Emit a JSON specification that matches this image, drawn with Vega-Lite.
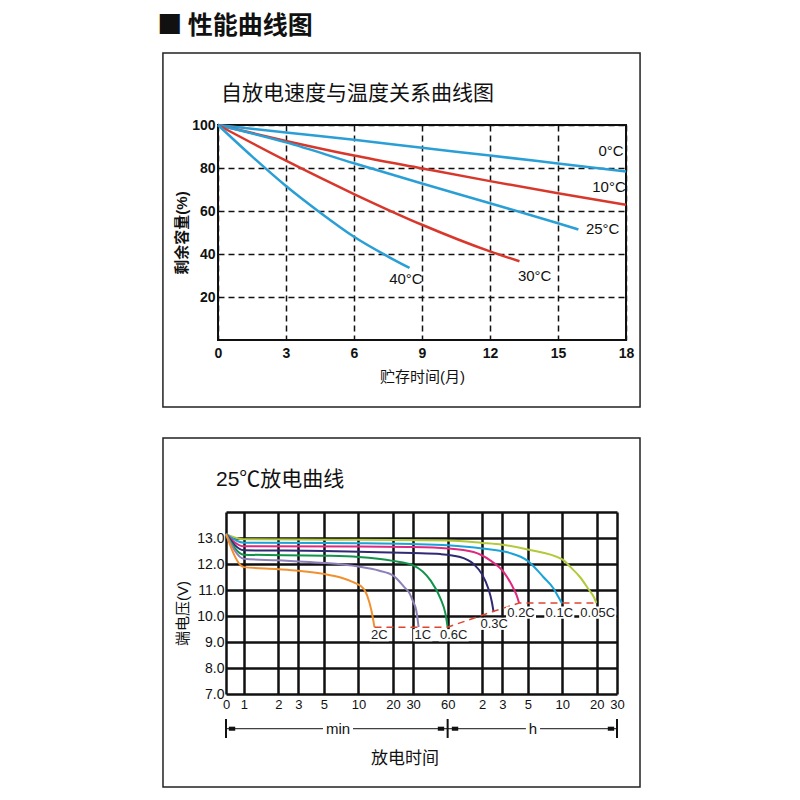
{
  "$schema": "https://vega.github.io/schema/vega-lite/v6.json",
  "background": "white",
  "padding": {"left": 157, "top": 14, "right": 5, "bottom": 5},
  "config": {
    "font": "Liberation Sans, 'Noto Sans CJK SC', sans-serif",
    "axis": {"domain": false, "ticks": false, "labelFlush": false, "labelOverlap": false, "labelColor": "#111", "titleColor": "#111", "gridOpacity": 1}
  },
  "title": {"text": "■ 性能曲线图", "anchor": "start", "frame": "bounds", "font": "'Noto Sans CJK SC', sans-serif", "fontSize": 25, "fontWeight": "bold", "color": "#111", "offset": 12, "dx": -4},
  "resolve": {"scale": {"color": "independent", "shape": "independent"}},
  "spacing": 28,
  "vconcat": [
    {
      "width": 408,
      "height": 215,
      "view": {"stroke": "#111", "strokeWidth": 2},
      "encoding": {
        "x": {"field": "x", "type": "quantitative", "scale": {"domain": [0, 18], "nice": false, "zero": false},
          "axis": {"values": [0, 3, 6, 9, 12, 15, 18], "title": "贮存时间(月)", "labelFontSize": 14, "labelFontWeight": "bold", "labelPadding": 6, "titleFontSize": 15, "titleFontWeight": "normal", "titlePadding": 9, "grid": true, "gridColor": "#111", "gridDash": [6, 4], "gridWidth": 1.5}},
        "y": {"field": "y", "type": "quantitative", "scale": {"domain": [0, 100], "nice": false},
          "axis": {"values": [20, 40, 60, 80, 100], "title": "剩余容量(%)", "labelFontSize": 14, "labelFontWeight": "bold", "labelPadding": 3, "titleFontSize": 15, "titleFontWeight": "bold", "titlePadding": 2, "grid": true, "gridColor": "#111", "gridDash": [6, 4], "gridWidth": 1.5}}
      },
      "layer": [
        {
          "data": {"values": [{"x": -2.43, "x2": 18.62, "y": -31.2, "y2": 133.5}]},
          "mark": {"type": "rect", "filled": false, "stroke": "#222", "strokeWidth": 1.5, "clip": false},
          "encoding": {"x2": {"field": "x2"}, "y2": {"field": "y2"}}
        },
        {
          "data": {"values": [
            {"s": "0°C", "x": 0, "y": 100}, {"s": "0°C", "x": 3, "y": 96.5}, {"s": "0°C", "x": 6, "y": 93.1}, {"s": "0°C", "x": 9, "y": 89.4}, {"s": "0°C", "x": 12, "y": 85.8}, {"s": "0°C", "x": 15, "y": 82.1}, {"s": "0°C", "x": 18, "y": 78.4},
            {"s": "10°C", "x": 0, "y": 100}, {"s": "10°C", "x": 3, "y": 92.6}, {"s": "10°C", "x": 6, "y": 85.8}, {"s": "10°C", "x": 9, "y": 79.8}, {"s": "10°C", "x": 12, "y": 73.9}, {"s": "10°C", "x": 15, "y": 68.3}, {"s": "10°C", "x": 18, "y": 62.9},
            {"s": "25°C", "x": 0, "y": 100}, {"s": "25°C", "x": 3, "y": 91.9}, {"s": "25°C", "x": 6, "y": 82.2}, {"s": "25°C", "x": 9, "y": 72.8}, {"s": "25°C", "x": 12, "y": 63.6}, {"s": "25°C", "x": 15, "y": 54.3}, {"s": "25°C", "x": 15.9, "y": 51.4},
            {"s": "30°C", "x": 0, "y": 100}, {"s": "30°C", "x": 3, "y": 83.4}, {"s": "30°C", "x": 6, "y": 67.9}, {"s": "30°C", "x": 9, "y": 53.6}, {"s": "30°C", "x": 12, "y": 41.2}, {"s": "30°C", "x": 13.3, "y": 36.6},
            {"s": "40°C", "x": 0, "y": 100}, {"s": "40°C", "x": 1.5, "y": 85.4}, {"s": "40°C", "x": 3, "y": 71.6}, {"s": "40°C", "x": 4.5, "y": 59.3}, {"s": "40°C", "x": 6, "y": 48}, {"s": "40°C", "x": 7.5, "y": 38.8}, {"s": "40°C", "x": 8.45, "y": 33.5}
          ]},
          "mark": {"type": "line", "interpolate": "monotone", "strokeWidth": 2.5},
          "encoding": {
            "color": {"field": "s", "type": "nominal", "scale": {"domain": ["0°C", "10°C", "25°C", "30°C", "40°C"], "range": ["#2a9fd6", "#d8382c", "#2a9fd6", "#d8382c", "#2a9fd6"]}, "legend": null}
          }
        },
        {
          "data": {"values": [
            {"x": 17.34, "y": 87.9, "lab": "0°C"},
            {"x": 17.25, "y": 71.3, "lab": "10°C"},
            {"x": 16.97, "y": 51.8, "lab": "25°C"},
            {"x": 13.97, "y": 29.8, "lab": "30°C"},
            {"x": 8.29, "y": 28.5, "lab": "40°C"}
          ]},
          "mark": {"type": "text", "align": "center", "baseline": "middle", "fontSize": 15, "color": "#111"},
          "encoding": {"text": {"field": "lab"}}
        },
        {
          "data": {"values": [{"x": 0.13, "y": 114.4, "text": "自放电速度与温度关系曲线图"}]},
          "mark": {"type": "text", "align": "left", "baseline": "middle", "fontSize": 21, "color": "#111", "clip": false},
          "encoding": {"text": {"field": "text"}}
        }
      ]
    },
    {
      "width": 399,
      "height": 182,
      "view": {"stroke": null},
      "encoding": {
        "x": {"field": "t", "type": "quantitative", "scale": {"type": "log", "domain": [0.7, 1800], "range": [8, 399], "nice": false},
          "axis": {"values": [0.7, 1, 2, 3, 5, 10, 20, 30, 60, 120, 180, 300, 600, 1200, 1800], "labelExpr": "datum.value < 0.9 ? '0' : (datum.value >= 120 ? format(datum.value / 60, 'd') : format(datum.value, 'd'))", "title": "放电时间", "labelFontSize": 13, "labelPadding": 4, "titleFontSize": 17, "titleFontWeight": "normal", "titlePadding": 39, "titleX": 186.5, "grid": true, "gridColor": "#111", "gridWidth": 2.5}},
        "y": {"field": "v", "type": "quantitative", "scale": {"domain": [7, 14], "nice": false, "zero": false},
          "axis": {"values": [7, 8, 9, 10, 11, 12, 13, 14], "labelExpr": "datum.value == 14 ? '' : format(datum.value, '.1f')", "title": "端电压(V)", "labelFontSize": 14, "labelPadding": -6, "titleFontSize": 15, "titleFontWeight": "normal", "titlePadding": 6, "titleY": 101, "grid": true, "gridColor": "#111", "gridWidth": 2.5}}
      },
      "layer": [
        {
          "data": {"values": [{"t": 0.1975, "t2": 2857, "v": 3.423, "v2": 16.846}]},
          "mark": {"type": "rect", "filled": false, "stroke": "#222", "strokeWidth": 1.5, "clip": false},
          "encoding": {"x2": {"field": "t2"}, "y2": {"field": "v2"}}
        },
        {
          "data": {"values": [
            {"s": "0.05C", "t": 0.7, "v": 13.15}, {"s": "0.05C", "t": 1, "v": 12.95}, {"s": "0.05C", "t": 10, "v": 12.93}, {"s": "0.05C", "t": 60, "v": 12.9}, {"s": "0.05C", "t": 120, "v": 12.81}, {"s": "0.05C", "t": 180, "v": 12.74}, {"s": "0.05C", "t": 300, "v": 12.56}, {"s": "0.05C", "t": 600, "v": 12.18}, {"s": "0.05C", "t": 700, "v": 11.9}, {"s": "0.05C", "t": 855, "v": 11.5}, {"s": "0.05C", "t": 1010, "v": 11.05}, {"s": "0.05C", "t": 1130, "v": 10.73}, {"s": "0.05C", "t": 1190, "v": 10.5},
            {"s": "0.1C", "t": 0.7, "v": 13.15}, {"s": "0.1C", "t": 1, "v": 12.82}, {"s": "0.1C", "t": 10, "v": 12.8}, {"s": "0.1C", "t": 30, "v": 12.77}, {"s": "0.1C", "t": 60, "v": 12.72}, {"s": "0.1C", "t": 120, "v": 12.6}, {"s": "0.1C", "t": 200, "v": 12.45}, {"s": "0.1C", "t": 300, "v": 12.12}, {"s": "0.1C", "t": 410, "v": 11.5}, {"s": "0.1C", "t": 505, "v": 11.05}, {"s": "0.1C", "t": 555, "v": 10.73}, {"s": "0.1C", "t": 590, "v": 10.53}, {"s": "0.1C", "t": 600, "v": 10.5},
            {"s": "0.2C", "t": 0.7, "v": 13.15}, {"s": "0.2C", "t": 1, "v": 12.68}, {"s": "0.2C", "t": 10, "v": 12.67}, {"s": "0.2C", "t": 30, "v": 12.65}, {"s": "0.2C", "t": 60, "v": 12.6}, {"s": "0.2C", "t": 101, "v": 12.46}, {"s": "0.2C", "t": 141, "v": 12.14}, {"s": "0.2C", "t": 185, "v": 11.69}, {"s": "0.2C", "t": 218, "v": 11.18}, {"s": "0.2C", "t": 240, "v": 10.79}, {"s": "0.2C", "t": 252, "v": 10.5},
            {"s": "0.3C", "t": 0.7, "v": 13.15}, {"s": "0.3C", "t": 1, "v": 12.53}, {"s": "0.3C", "t": 5, "v": 12.5}, {"s": "0.3C", "t": 10, "v": 12.47}, {"s": "0.3C", "t": 30, "v": 12.42}, {"s": "0.3C", "t": 52, "v": 12.38}, {"s": "0.3C", "t": 77, "v": 12.27}, {"s": "0.3C", "t": 101, "v": 12.0}, {"s": "0.3C", "t": 119, "v": 11.62}, {"s": "0.3C", "t": 136, "v": 11.05}, {"s": "0.3C", "t": 146, "v": 10.53}, {"s": "0.3C", "t": 151, "v": 10.15},
            {"s": "0.6C", "t": 0.7, "v": 13.15}, {"s": "0.6C", "t": 1, "v": 12.36}, {"s": "0.6C", "t": 5, "v": 12.32}, {"s": "0.6C", "t": 10, "v": 12.27}, {"s": "0.6C", "t": 20, "v": 12.12}, {"s": "0.6C", "t": 30, "v": 11.95}, {"s": "0.6C", "t": 42.5, "v": 11.37}, {"s": "0.6C", "t": 52, "v": 10.67}, {"s": "0.6C", "t": 57.4, "v": 10.09}, {"s": "0.6C", "t": 60, "v": 9.57},
            {"s": "1C", "t": 0.7, "v": 13.15}, {"s": "1C", "t": 1, "v": 12.2}, {"s": "1C", "t": 2, "v": 12.14}, {"s": "1C", "t": 3, "v": 12.1}, {"s": "1C", "t": 5, "v": 12.04}, {"s": "1C", "t": 10, "v": 11.9}, {"s": "1C", "t": 15, "v": 11.75}, {"s": "1C", "t": 20, "v": 11.56}, {"s": "1C", "t": 25, "v": 11.12}, {"s": "1C", "t": 28, "v": 10.86}, {"s": "1C", "t": 30, "v": 10.55}, {"s": "1C", "t": 32, "v": 10.2}, {"s": "1C", "t": 33.5, "v": 9.57},
            {"s": "2C", "t": 0.7, "v": 13.15}, {"s": "2C", "t": 1, "v": 11.88}, {"s": "2C", "t": 2, "v": 11.8}, {"s": "2C", "t": 3, "v": 11.74}, {"s": "2C", "t": 5, "v": 11.62}, {"s": "2C", "t": 7, "v": 11.48}, {"s": "2C", "t": 9, "v": 11.3}, {"s": "2C", "t": 10.5, "v": 11.15}, {"s": "2C", "t": 11.3, "v": 11.0}, {"s": "2C", "t": 12, "v": 10.75}, {"s": "2C", "t": 13, "v": 10.2}, {"s": "2C", "t": 13.8, "v": 9.57}
          ]},
          "mark": {"type": "line", "interpolate": "monotone", "strokeWidth": 2},
          "encoding": {
            "color": {"field": "s", "type": "nominal", "scale": {"domain": ["0.05C", "0.1C", "0.2C", "0.3C", "0.6C", "1C", "2C"], "range": ["#b3c93a", "#1aa3d9", "#e0287f", "#2f2a73", "#12934a", "#8e80b8", "#f0902e"]}, "legend": null}
          }
        },
        {
          "data": {"values": [
            {"t": 13.8, "v": 9.57}, {"t": 60, "v": 9.57}, {"t": 151, "v": 10.18}, {"t": 252, "v": 10.5}, {"t": 1190, "v": 10.5}
          ]},
          "mark": {"type": "line", "color": "#e0452f", "strokeWidth": 1.5, "strokeDash": [7, 5]}
        },
        {
          "data": {"name": "rateLabels", "values": [
            {"t": 15.2, "v": 9.26, "lab": "2C"},
            {"t": 36.4, "v": 9.26, "lab": "1C"},
            {"t": 67.8, "v": 9.26, "lab": "0.6C"},
            {"t": 153, "v": 9.7, "lab": "0.3C"},
            {"t": 262, "v": 10.13, "lab": "0.2C"},
            {"t": 565, "v": 10.13, "lab": "0.1C"},
            {"t": 1221, "v": 10.13, "lab": "0.05C"}
          ]},
          "layer": [
            {
              "mark": {"type": "point", "filled": true, "size": 1369, "color": "white", "opacity": 1, "strokeWidth": 0},
              "encoding": {
                "shape": {"field": "lab", "type": "nominal", "scale": {"domain": ["2C", "1C", "0.6C", "0.3C", "0.2C", "0.1C", "0.05C"], "range": ["M -0.52 -0.33 L 0.52 -0.33 L 0.52 0.33 L -0.52 0.33 Z", "M -0.52 -0.33 L 0.52 -0.33 L 0.52 0.33 L -0.52 0.33 Z", "M -0.81 -0.33 L 0.81 -0.33 L 0.81 0.33 L -0.81 0.33 Z", "M -0.81 -0.33 L 0.81 -0.33 L 0.81 0.33 L -0.81 0.33 Z", "M -0.81 -0.33 L 0.81 -0.33 L 0.81 0.33 L -0.81 0.33 Z", "M -0.81 -0.33 L 0.81 -0.33 L 0.81 0.33 L -0.81 0.33 Z", "M -1 -0.33 L 1 -0.33 L 1 0.33 L -1 0.33 Z"]}, "legend": null}
              }
            },
            {
              "mark": {"type": "text", "align": "center", "baseline": "middle", "fontSize": 13, "color": "#222"},
              "encoding": {"text": {"field": "lab"}}
            }
          ]
        },
        {
          "data": {"values": [{"t": 0.5726, "v": 15.23, "text": "25℃放电曲线"}]},
          "mark": {"type": "text", "align": "left", "baseline": "middle", "fontSize": 21, "color": "#111", "clip": false},
          "encoding": {"text": {"field": "text"}}
        },
        {
          "data": {"values": [
            {"t": 0.7, "t2": 4.91, "v": 5.665}, {"t": 8.97, "t2": 60, "v": 5.665}, {"t": 60, "t2": 289, "v": 5.665}, {"t": 383.6, "t2": 1800, "v": 5.665}
          ]},
          "mark": {"type": "rule", "color": "#111", "strokeWidth": 1, "clip": false},
          "encoding": {"x2": {"field": "t2"}}
        },
        {
          "data": {"values": [
            {"t": 0.7, "v": 6.04, "v2": 5.31}, {"t": 60, "v": 6.04, "v2": 5.31}, {"t": 1800, "v": 6.04, "v2": 5.31}
          ]},
          "mark": {"type": "rule", "color": "#111", "strokeWidth": 2, "clip": false},
          "encoding": {"y2": {"field": "v2"}}
        },
        {
          "data": {"values": [
            {"t": 0.79, "v": 5.665, "d": "L"}, {"t": 52.5, "v": 5.665, "d": "R"}, {"t": 69.6, "v": 5.665, "d": "L"}, {"t": 1595, "v": 5.665, "d": "R"}
          ]},
          "mark": {"type": "point", "filled": true, "size": 150, "color": "#111", "opacity": 1, "clip": false},
          "encoding": {
            "shape": {"field": "d", "type": "nominal", "scale": {"domain": ["L", "R"], "range": ["M -1 0 L 1 -0.62 L 1 0.62 Z", "M 1 0 L -1 -0.62 L -1 0.62 Z"]}, "legend": null}
          }
        },
        {
          "data": {"values": [
            {"t": 6.64, "v": 5.665, "text": "min"}, {"t": 333, "v": 5.665, "text": "h"}
          ]},
          "mark": {"type": "text", "align": "center", "baseline": "middle", "fontSize": 15, "color": "#111", "clip": false},
          "encoding": {"text": {"field": "text"}}
        }
      ]
    }
  ]
}
